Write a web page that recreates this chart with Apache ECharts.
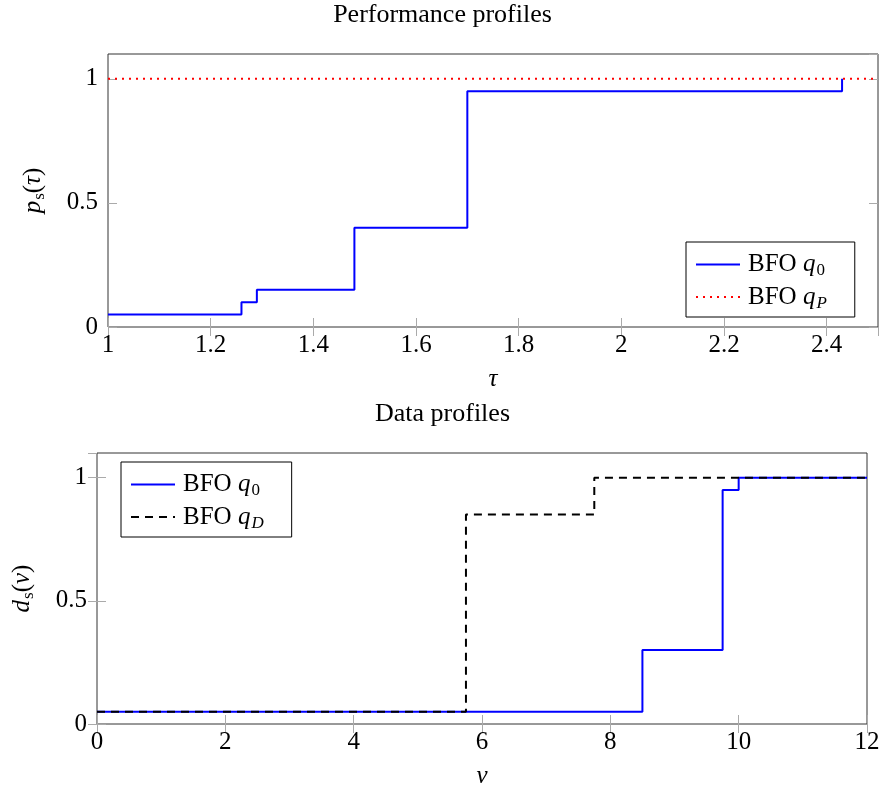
<!DOCTYPE html>
<html>
<head>
<meta charset="utf-8">
<script src="https://cdn.jsdelivr.net/npm/echarts@6/dist/echarts.min.js"></script>
<style>
  html, body { margin: 0; padding: 0; background: #fff; }
  #chart { width: 885px; height: 790px; }
</style>
</head>
<body>
<div id="chart"></div>
<script>
  // performance profiles
  var tauSteps = [1, 1.26, 1.29, 1.48, 1.70, 2.43];
  var perfQ0 = [0.05, 0.10, 0.15, 0.40, 0.95, 1];
  var tauQP = [1, 2.5];
  var perfQP = [1, 1];

  // data profiles
  var nuQ0 = [0, 8.5, 9.75, 10, 12];
  var dataQ0 = [0.05, 0.30, 0.95, 1, 1];
  var nuQD = [0, 5.75, 7.75, 12];
  var dataQD = [0.05, 0.85, 1, 1];

  var FONT = 'Liberation Serif';
  var FS = 25;

  function pairs(xs, ys) {
    return xs.map(function (x, i) { return [x, ys[i]]; });
  }

  var richText = {
    n: {fontFamily: FONT, fontSize: FS, color: '#000'},
    g: {fontFamily: FONT, fontSize: FS, color: '#000', padding: [0, 0, 0, 3]},
    i: {fontFamily: FONT, fontSize: FS, fontStyle: 'italic', color: '#000'},
    s: {fontFamily: FONT, fontSize: 17, color: '#000', padding: [13, 0, 0, 1]},
    si: {fontFamily: FONT, fontSize: 17, fontStyle: 'italic', color: '#000', padding: [13, 0, 0, 1]}
  };

  function xAxisFor(grid, min, max, interval, top) {
    return {
      type: 'value', gridIndex: grid, min: min, max: max, interval: interval,
      position: top ? 'top' : 'bottom',
      axisLine: {show: false},
      axisTick: {show: true, inside: true, length: 9, lineStyle: {color: '#aaa', width: 1}},
      axisLabel: {show: !top, margin: 6, showMaxLabel: false, fontFamily: FONT, fontSize: FS, color: '#000'},
      splitLine: {show: false}
    };
  }
  function yAxisFor(grid, right) {
    return {
      type: 'value', gridIndex: grid, min: 0, max: 1.1, interval: 0.5,
      position: right ? 'right' : 'left',
      axisLine: {show: false},
      axisTick: {show: true, inside: true, length: 9, lineStyle: {color: '#aaa', width: 1}},
      axisLabel: {show: !right, margin: 10, showMaxLabel: false, fontFamily: FONT, fontSize: FS, color: '#000'},
      splitLine: {show: false}
    };
  }

  var chart = echarts.init(document.getElementById('chart'));

  var xTop = xAxisFor(0, 1, 2.5, 0.2, false);
  xTop.name = '{i|τ}';
  xTop.nameLocation = 'middle';
  xTop.nameGap = 40;
  xTop.nameTextStyle = {rich: richText};

  var xBot = xAxisFor(1, 0, 12, 2, false);
  xBot.name = '{i|ν}';
  xBot.nameLocation = 'middle';
  xBot.nameGap = 40;
  xBot.nameTextStyle = {rich: richText};
  xBot.axisLabel.showMaxLabel = true;

  var yTop = yAxisFor(0, false);
  yTop.name = '{i|p}{s|s}{n|(}{i|τ}{n|)}';
  yTop.nameLocation = 'middle';
  yTop.nameRotate = 90;
  yTop.nameGap = 60;
  yTop.nameTextStyle = {rich: richText};

  var yBot = yAxisFor(1, false);
  yBot.name = '{i|d}{s|s}{n|(}{i|ν}{n|)}';
  yBot.nameLocation = 'middle';
  yBot.nameRotate = 90;
  yBot.nameGap = 60;
  yBot.nameTextStyle = {rich: richText};

  var legendBase = {
    orient: 'vertical',
    borderColor: '#000', borderWidth: 1,
    padding: [10, 28, 5, 9],
    itemWidth: 44, itemHeight: 14, itemGap: 5,
    itemStyle: {color: 'rgba(0,0,0,0)', borderWidth: 0},
    textStyle: {rich: richText}
  };

  var option = {
    animation: false,
    backgroundColor: '#fff',
    title: [
      {text: 'Performance profiles', left: 'center', top: -3, textStyle: {fontFamily: FONT, fontSize: 26, fontWeight: 'normal', color: '#000'}},
      {text: 'Data profiles', left: 'center', top: 396, textStyle: {fontFamily: FONT, fontSize: 26, fontWeight: 'normal', color: '#000'}}
    ],
    grid: [
      {left: 108, top: 54, width: 770, height: 273, show: true, borderColor: '#333', borderWidth: 1},
      {left: 97, top: 453, width: 770, height: 274, show: true, borderColor: '#333', borderWidth: 1}
    ],
    xAxis: [xTop, xAxisFor(0, 1, 2.5, 0.2, true), xBot, xAxisFor(1, 0, 12, 2, true)],
    yAxis: [yTop, yAxisFor(0, true), yBot, yAxisFor(1, true)],
    legend: [
      Object.assign({}, legendBase, {
        left: 686, top: 242,
        data: ['q0top', 'qP'],
        formatter: function (name) {
          return name === 'qP' ? '{g|BFO }{i|q}{si|P}' : '{g|BFO }{i|q}{s|0}';
        }
      }),
      Object.assign({}, legendBase, {
        left: 121, top: 462,
        data: ['q0bot', 'qD'],
        formatter: function (name) {
          return name === 'qD' ? '{g|BFO }{i|q}{si|D}' : '{g|BFO }{i|q}{s|0}';
        }
      })
    ],
    series: [
      {
        name: 'q0top', type: 'line', step: 'end', xAxisIndex: 0, yAxisIndex: 0,
        data: pairs(tauSteps, perfQ0), symbol: 'none',
        lineStyle: {color: '#0000ff', width: 2}, itemStyle: {color: '#0000ff'}
      },
      {
        name: 'qP', type: 'line', xAxisIndex: 0, yAxisIndex: 0,
        data: pairs(tauQP, perfQP), symbol: 'none',
        lineStyle: {color: '#ff0000', width: 2, type: [2, 5]}, itemStyle: {color: '#ff0000'}
      },
      {
        name: 'q0bot', type: 'line', step: 'end', xAxisIndex: 2, yAxisIndex: 2,
        data: pairs(nuQ0, dataQ0), symbol: 'none',
        lineStyle: {color: '#0000ff', width: 2}, itemStyle: {color: '#0000ff'}
      },
      {
        name: 'qD', type: 'line', step: 'end', xAxisIndex: 2, yAxisIndex: 2,
        data: pairs(nuQD, dataQD), symbol: 'none',
        lineStyle: {color: '#000', width: 2, type: [8, 6]}, itemStyle: {color: '#000'}
      }
    ]
  };

  chart.setOption(option);
</script>
</body>
</html>
